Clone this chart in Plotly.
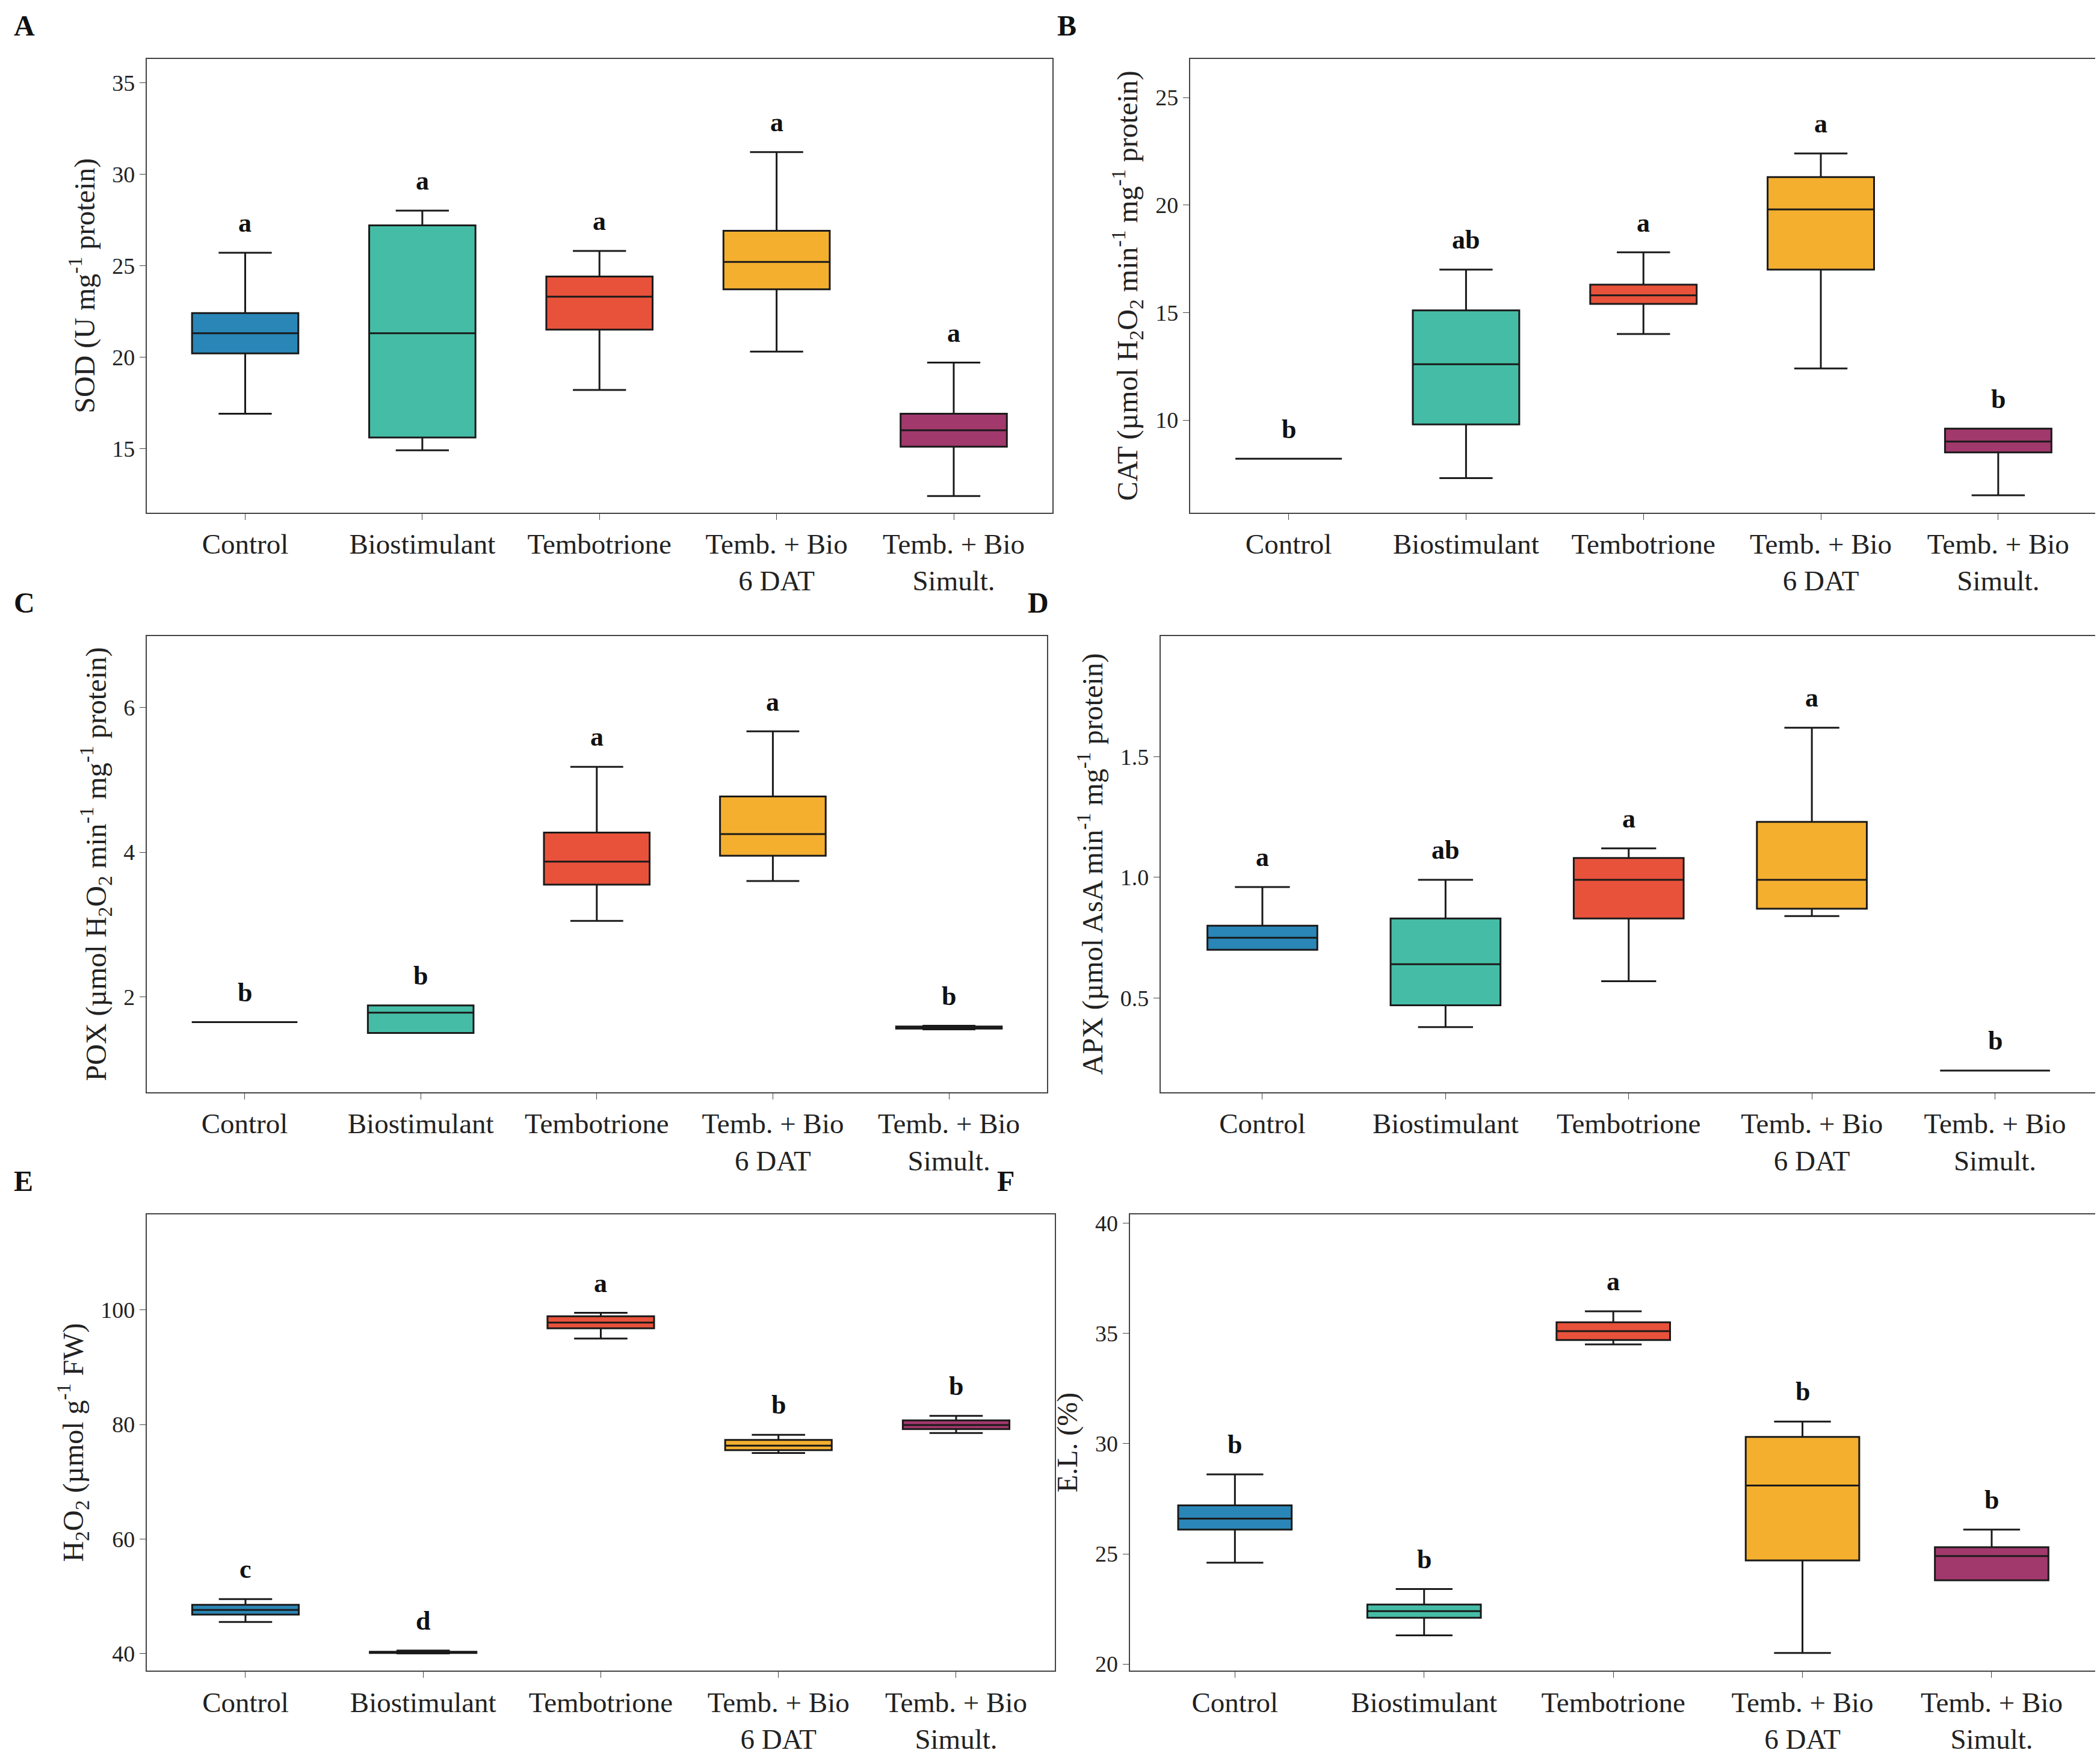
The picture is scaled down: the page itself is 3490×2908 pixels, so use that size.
import plotly.graph_objects as go

groups = ["Control", "Biostimulant", "Tembotrione", "Temb. + Bio<br>6 DAT", "Temb. + Bio<br>Simult."]
colors = ["#2A86B6", "#45BDA6", "#E8523B", "#F4AF2F", "#A1396C"]

# each panel: lower whisker, q1, median, q3, upper whisker, letters
sod_lo = [16.9, 14.9, 18.2, 20.3, 12.4]
sod_q1 = [20.2, 15.6, 21.5, 23.7, 15.1]
sod_md = [21.3, 21.3, 23.3, 25.2, 16.0]
sod_q3 = [22.4, 27.2, 24.4, 26.9, 16.9]
sod_hi = [25.7, 28.0, 25.8, 31.2, 19.7]
sod_let = ["a", "a", "a", "a", "a"]

cat_lo = [8.2, 7.3, 14.0, 12.4, 6.5]
cat_q1 = [8.2, 9.8, 15.4, 17.0, 8.5]
cat_md = [8.2, 12.6, 15.8, 19.8, 9.0]
cat_q3 = [8.2, 15.1, 16.3, 21.3, 9.6]
cat_hi = [8.2, 17.0, 17.8, 22.4, 9.6]
cat_let = ["b", "ab", "a", "a", "b"]

pox_lo = [1.65, 1.50, 3.05, 3.60, 1.55]
pox_q1 = [1.65, 1.50, 3.55, 3.95, 1.56]
pox_md = [1.65, 1.78, 3.87, 4.25, 1.58]
pox_q3 = [1.65, 1.88, 4.27, 4.77, 1.59]
pox_hi = [1.65, 1.88, 5.18, 5.67, 1.60]
pox_let = ["b", "b", "a", "a", "b"]

apx_lo = [0.70, 0.38, 0.57, 0.84, 0.20]
apx_q1 = [0.70, 0.47, 0.83, 0.87, 0.20]
apx_md = [0.75, 0.64, 0.99, 0.99, 0.20]
apx_q3 = [0.80, 0.83, 1.08, 1.23, 0.20]
apx_hi = [0.96, 0.99, 1.12, 1.62, 0.20]
apx_let = ["a", "ab", "a", "a", "b"]

h2o2_lo = [45.5, 40.0, 95.0, 75.0, 78.5]
h2o2_q1 = [46.8, 40.1, 96.8, 75.5, 79.2]
h2o2_md = [47.6, 40.2, 97.8, 76.3, 79.9]
h2o2_q3 = [48.5, 40.3, 98.9, 77.3, 80.7]
h2o2_hi = [49.5, 40.5, 99.5, 78.2, 81.5]
h2o2_let = ["c", "d", "a", "b", "b"]

el_lo = [24.6, 21.3, 34.5, 20.5, 23.8]
el_q1 = [26.1, 22.1, 34.7, 24.7, 23.8]
el_md = [26.6, 22.4, 35.1, 28.1, 24.9]
el_q3 = [27.2, 22.7, 35.5, 30.3, 25.3]
el_hi = [28.6, 23.4, 36.0, 31.0, 26.1]
el_let = ["b", "b", "a", "b", "b"]

W, H = 1568, 1306
panels = [
    ("A", "SOD (U mg<sup>-1</sup> protein)", (106, 782, 38, 380), [11.5, 36.3], [15, 20, 25, 30, 35], "d",
     (sod_lo, sod_q1, sod_md, sod_q3, sod_hi, sod_let)),
    ("B", "CAT (µmol H<sub>2</sub>O<sub>2</sub> min<sup>-1</sup> mg<sup>-1</sup> protein)", (885, 1562, 38, 380), [5.7, 26.8], [10, 15, 20, 25], "d",
     (cat_lo, cat_q1, cat_md, cat_q3, cat_hi, cat_let)),
    ("C", "POX (µmol H<sub>2</sub>O<sub>2</sub> min<sup>-1</sup> mg<sup>-1</sup> protein)", (106, 778, 473, 817), [0.68, 6.99], [2, 4, 6], "d",
     (pox_lo, pox_q1, pox_md, pox_q3, pox_hi, pox_let)),
    ("D", "APX (µmol AsA min<sup>-1</sup> mg<sup>-1</sup> protein)", (863, 1562, 473, 817), [0.11, 2.0], [0.5, 1.0, 1.5], ".1f",
     (apx_lo, apx_q1, apx_md, apx_q3, apx_hi, apx_let)),
    ("E", "H<sub>2</sub>O<sub>2</sub> (µmol g<sup>-1</sup> FW)", (106, 784, 909, 1253), [37, 116.7], [40, 60, 80, 100], "d",
     (h2o2_lo, h2o2_q1, h2o2_md, h2o2_q3, h2o2_hi, h2o2_let)),
    ("F", "E.L. (%)", (840, 1562, 909, 1253), [19.7, 40.4], [20, 25, 30, 35, 40], "d",
     (el_lo, el_q1, el_md, el_q3, el_hi, el_let)),
]

FONT = "Liberation Serif"
fig = go.Figure()
layout = {}
annots = []
for i, (tag, title, (x0, x1, y0, y1), yr, ticks, fmt, d) in enumerate(panels):
    n = "" if i == 0 else str(i + 1)
    lo, q1, md, q3, hi, let = d
    for j, g in enumerate(groups):
        fig.add_trace(go.Box(
            x=[g], lowerfence=[lo[j]], q1=[q1[j]], median=[md[j]], q3=[q3[j]], upperfence=[hi[j]],
            fillcolor=colors[j], line=dict(color="#1a1a1a", width=3), width=0.6,
            xaxis="x" + n, yaxis="y" + n, showlegend=False, hoverinfo="skip"))
    span = yr[1] - yr[0]
    for j, g in enumerate(groups):
        annots.append(dict(x=g, y=hi[j] + span * 0.03, xref="x" + n, yref="y" + n, text="<b>%s</b>" % let[j],
                           showarrow=False, yanchor="bottom", font=dict(size=44, family=FONT, color="#111")))
    annots.append(dict(x=(x0 - 100) / W, y=1 - (y0 - 25) / H, xref="paper", yref="paper", text="<b>%s</b>" % tag,
                       showarrow=False, xanchor="left", yanchor="middle", font=dict(size=48, family=FONT, color="#111")))
    layout["xaxis" + n] = dict(domain=[x0 / W, x1 / W], anchor="y" + n, categoryorder="array", categoryarray=groups,
                               showline=True, mirror=True, linecolor="#444", linewidth=2, ticks="outside",
                               ticklen=10, tickcolor="#444", showgrid=False,
                               tickfont=dict(size=47, family=FONT, color="#222"))
    layout["yaxis" + n] = dict(domain=[1 - y1 / H, 1 - y0 / H], anchor="x" + n, range=yr, tickvals=ticks,
                               tickformat=fmt,
                               showline=True, mirror=True, linecolor="#444", linewidth=2, ticks="outside",
                               ticklen=10, tickcolor="#444", showgrid=False, zeroline=False,
                               tickfont=dict(size=38, family=FONT, color="#222"),
                               title=dict(text=title, font=dict(size=48, family=FONT, color="#222"), standoff=14))

fig.update_layout(**layout)
fig.update_layout(width=3490, height=2908, margin=dict(l=0, r=0, t=0, b=0),
                  plot_bgcolor="white", paper_bgcolor="white", annotations=annots)
fig.write_html("out.html")
